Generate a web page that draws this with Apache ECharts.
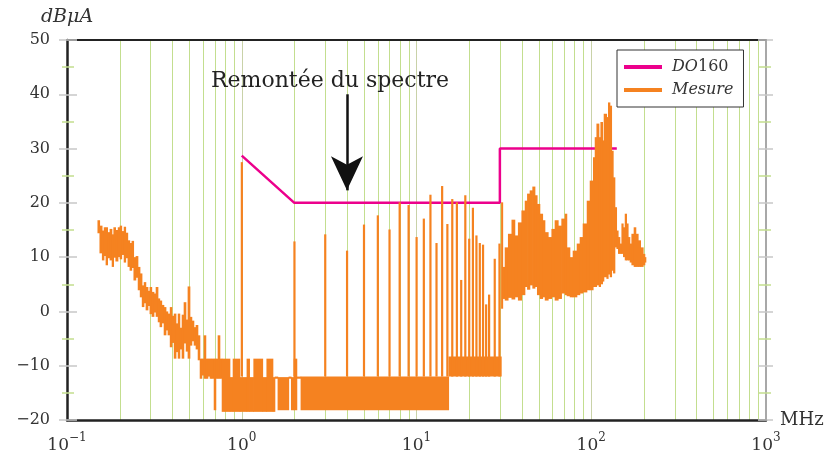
<!DOCTYPE html>
<html><head><meta charset="utf-8">
<script src="https://cdn.jsdelivr.net/npm/echarts@6/dist/echarts.min.js"></script>
<style>html,body{margin:0;padding:0;background:#fff}#c{width:828px;height:458px}</style>
</head><body><div id="c"></div>
<script>
// ---- data ----
const limitFreq  = [1, 2, 30, 30, 140];
const limitLevel = [28.7, 20, 20, 30, 30];

// Mesure: measured band (each step runs to the next frequency), MHz / dBµA
const bandFreq = [
 0.150,0.154,0.159,0.163,0.167,0.171,0.176,0.181,0.185,0.190,0.196,0.201,0.206,0.212,0.217,0.223,0.229,0.235,0.241,0.248,
 0.255,0.262,0.269,0.276,0.283,0.291,0.298,0.306,0.315,0.323,0.332,0.340,0.349,0.359,0.369,0.378,0.389,0.399,0.410,0.421,
 0.432,0.443,0.455,0.467,0.480,0.492,0.506,0.519,0.533,0.547,0.562,0.577,0.592,0.608,0.624,0.641,0.658,0.675,0.694,0.712,
 0.731,0.751,0.771,0.857,0.891,0.977,1.07,1.11,1.17,1.32,1.39,1.51,1.55,1.61,1.86,1.92,1.99,2.07,2.18,15.3,
 30.6,31.2,32.1,33.5,35.1,36.6,38.2,40.0,41.8,43.1,44.6,46.2,47.7,49.1,50.9,52.8,54.4,56.8,59.4,62.0,
 64.8,67.7,70.8,72.6,75.6,78.6,82.9,86.2,89.7,94.6,98.4,102.7,105.1,107.5,110.8,113.3,116.3,118.3,122.6,125.2,
 128.1,131.0,133.8,136.8,139.9,142.8,146.0,149.4,152.6,156.1,159.6,162.9,166.6,170.4,175.6,180.3,185.9,191.9,198.6,203.0,
 205.8
];
const bandLo = [
 14.4,10.7,9.4,10.2,8.5,9.8,9.4,8.2,9.9,9.2,10.0,9.6,10.4,9.0,9.8,8.2,7.5,8.0,5.7,6.2,
 3.9,2.6,0.8,1.5,0.2,1.0,-0.5,-1.0,-0.2,-1.0,-2.0,-2.9,-2.2,-4.4,-3.5,-4.4,-6.6,-5.8,-8.7,-7.5,
 -8.7,-7.0,-8.7,-5.9,-7.4,-8.7,-6.3,-5.5,-6.3,-7.0,-9.0,-12.4,-11.8,-12.4,-12.4,-12.0,-12.4,-12.4,-18.2,-12.4,
 -12.4,-12.4,-18.5,-18.5,-18.5,-18.5,-18.5,-18.5,-18.5,-18.5,-18.5,-18.5,-12.4,-18.2,-12.4,-18.2,-18.2,-12.4,-18.2,-12.0,
 0.5,2.3,2.0,2.5,2.2,2.6,2.0,3.0,4.5,4.0,4.8,4.2,4.5,3.0,2.3,2.6,2.0,2.3,2.6,2.0,
 2.3,3.3,3.0,2.8,2.6,2.6,3.0,3.3,3.5,3.9,3.9,4.5,4.5,4.8,4.5,5.0,5.5,6.3,6.0,6.8,
 6.3,7.5,7.0,11.8,11.5,10.6,10.6,10.6,10.0,9.4,9.4,9.4,9.0,8.5,8.2,8.2,8.2,8.2,8.5,9.0,
 9.6
];
const bandHi = [
 16.8,15.8,14.9,15.5,15.5,14.6,15.2,14.2,15.5,15.0,15.5,15.8,14.8,15.6,14.5,13.1,12.6,13.0,10.0,10.2,
 8.2,7.0,4.8,5.4,4.5,3.8,4.5,3.6,3.3,4.5,2.4,2.0,1.2,0.8,0.0,-0.4,0.8,-0.8,-0.4,-2.2,
 -0.4,-3.0,-0.6,1.7,-1.5,4.6,-1.0,-1.7,-2.9,-2.5,-4.4,-8.7,-8.7,-4.4,-8.7,-8.7,-8.7,-8.7,-8.7,-8.7,
 -4.4,-8.7,-8.7,-12.1,-8.7,-12.1,-8.7,-12.1,-8.7,-12.1,-8.7,-12.1,-12.0,-12.1,-12.0,-12.1,-8.7,-12.0,-12.0,-8.3,
 20.1,8.2,11.8,14.3,16.9,14.0,16.4,18.6,20.4,21.7,22.3,23.0,21.4,19.8,18.0,16.8,14.6,13.7,15.2,16.8,
 15.8,17.1,18.0,11.8,10.0,11.2,12.5,13.7,16.2,20.4,24.1,28.4,32.1,34.6,32.1,34.9,31.5,36.4,35.8,38.5,
 37.9,29.6,24.7,19.2,14.9,13.7,12.5,16.2,15.5,18.0,16.2,13.7,12.5,14.3,15.5,14.3,13.1,11.8,10.6,10.0,
 9.6
];
// Mesure: harmonic spikes, MHz / dBµA
const spikeFreq = [1,2,3,4,5,6,7,8,9,10,11,12,13,14,15,16,17,18,19,20,21,22,23,24,25,26,28,29.8];
const spikeTop  = [27.5,12.9,14.2,11.2,16.0,17.7,15.1,20.1,19.6,13.7,17.1,21.5,12.6,23.1,16.1,20.7,20.1,5.8,21.4,13.4,19.1,14.0,12.6,12.3,1.3,3.1,9.7,12.5];
const spikeFloor = -12;

// axes / annotations
const yMin = -20, yMax = 50, yStep = 10;
const gridFreqs = [0.2,0.3,0.4,0.5,0.6,0.7,0.8,0.9,2,3,4,5,6,7,8,9,20,30,40,50,60,70,80,90,200,300,400,500,600,700,800,900];
const annotationText = 'Remontée du spectre';
const annotationAt = [3.2, 42.4];
const arrowFreq = 4, arrowFrom = 40, arrowTo = 22.3;
const seriesNames = ['DO160', 'Mesure'];

// ---- chart ----
const SERIF = 'DejaVu Serif';
const ORANGE = '#f58220';
const PINK = '#ec008c';
const GREEN = '#c3de8f';
const TXT = '#333';

const bandData = bandFreq.map((f, i) => [f, bandLo[i], bandHi[i], i + 1 < bandFreq.length ? bandFreq[i + 1] : f]);
const spikeData = spikeFreq.map((f, i) => [f, spikeFloor, spikeTop[i]]);
const limitData = limitFreq.map((f, i) => [f, limitLevel[i]]);
const gridData = gridFreqs.map(f => [f, yMin, yMax]);

const yFmt = v => v < 0 ? '\u2212' + Math.abs(v) : String(v);
const yBase = { type: 'value', min: yMin, max: yMax, interval: yStep, splitLine: { show: false } };
const tickMajor = { color: '#c8c8c8', width: 1.5 };
const tickMinor = { color: GREEN, width: 1.5 };

const chart = echarts.init(document.getElementById('c'));
chart.setOption({
  animation: false,
  grid: { left: 67, right: 62, top: 40, bottom: 38 },
  legend: {
    data: [{ name: seriesNames[0], icon: 'rect' }, { name: seriesNames[1], icon: 'rect' }],
    orient: 'vertical', left: 617, top: 50, zlevel: 2,
    borderColor: '#333', borderWidth: 1, backgroundColor: '#fff',
    padding: [7, 10, 7, 7], itemGap: 3, itemWidth: 38, itemHeight: 4,
    formatter: n => n === 'DO160' ? '{i|DO}{n|160}' : '{i|' + n + '}',
    textStyle: {
      color: TXT, lineHeight: 20, padding: [0, 0, 0, 5],
      rich: {
        i: { fontFamily: SERIF, fontStyle: 'italic', fontSize: 16, color: TXT },
        n: { fontFamily: SERIF, fontSize: 16, color: TXT }
      }
    }
  },
  xAxis: [{
    type: 'log', logBase: 10, min: 0.1, max: 1000, position: 'bottom',
    axisLine: { show: true, onZero: false, lineStyle: { color: '#222', width: 2.5 } },
    axisTick: { show: false },
    splitLine: { show: true, lineStyle: { color: '#c9d2a8', width: 1 } },
    axisLabel: {
      margin: 12,
      formatter: v => { const e = Math.round(Math.log10(v)); return '{b|10}{e|' + (e < 0 ? '\u2212' + (-e) : e) + '}'; },
      rich: {
        b: { fontFamily: SERIF, fontSize: 17, color: TXT, verticalAlign: 'bottom', lineHeight: 22 },
        e: { fontFamily: SERIF, fontSize: 12, color: TXT, verticalAlign: 'top', lineHeight: 14 }
      }
    },
    name: 'MHz', nameLocation: 'end', nameGap: 14,
    nameTextStyle: { fontFamily: SERIF, fontSize: 18, color: TXT, verticalAlign: 'middle' }
  }, {
    type: 'log', logBase: 10, min: 0.1, max: 1000, position: 'top',
    axisLine: { show: true, onZero: false, lineStyle: { color: '#222', width: 2 } },
    axisTick: { show: false }, axisLabel: { show: false }, splitLine: { show: false }
  }],
  yAxis: [
    Object.assign({}, yBase, {
      position: 'left',
      axisLine: { show: true, onZero: false, lineStyle: { color: '#222', width: 2.5 } },
      axisTick: { show: true, inside: false, length: 8, lineStyle: tickMajor },
      minorTick: { show: true, splitNumber: 2, length: 5, lineStyle: tickMinor },
      axisLabel: { fontFamily: SERIF, fontSize: 16, color: TXT, margin: 17, formatter: yFmt },
      name: 'dBμA', nameLocation: 'end', nameGap: 13,
      nameTextStyle: { fontFamily: SERIF, fontStyle: 'italic', fontSize: 19, color: TXT, align: 'center' }
    }),
    Object.assign({}, yBase, {
      position: 'left', axisLine: { show: false, onZero: false },
      axisTick: { show: true, inside: true, length: 10, lineStyle: tickMajor },
      minorTick: { show: true, splitNumber: 2, length: 7, lineStyle: tickMinor },
      axisLabel: { show: false }
    }),
    Object.assign({}, yBase, {
      position: 'right',
      axisLine: { show: true, onZero: false, lineStyle: { color: '#a8a8a8', width: 2 } },
      axisTick: { show: true, inside: false, length: 7, lineStyle: tickMajor },
      minorTick: { show: true, splitNumber: 2, length: 5, lineStyle: tickMinor },
      axisLabel: { show: false }
    }),
    Object.assign({}, yBase, {
      position: 'right', axisLine: { show: false, onZero: false },
      axisTick: { show: true, inside: true, length: 8, lineStyle: tickMajor },
      minorTick: { show: true, splitNumber: 2, length: 7, lineStyle: tickMinor },
      axisLabel: { show: false }
    })
  ],
  series: [
    {
      name: 'grid', type: 'custom', data: gridData, zlevel: 0, z: 0, silent: true,
      encode: { x: 0, y: [1, 2] },
      renderItem: (params, api) => {
        const a = api.coord([api.value(0), api.value(1)]);
        const b = api.coord([api.value(0), api.value(2)]);
        const x = Math.round(a[0]) + 0.5;
        return { type: 'line', z2: 0, shape: { x1: x, y1: a[1], x2: x, y2: b[1] }, style: { stroke: GREEN, lineWidth: 1 } };
      }
    },
    {
      name: seriesNames[0], type: 'line', data: limitData, zlevel: 1, z: 3,
      symbol: 'none', lineStyle: { color: PINK, width: 2.5 }, itemStyle: { color: PINK }
    },
    {
      name: seriesNames[1], type: 'custom', data: bandData, zlevel: 1, z: 4,
      encode: { x: [0, 3], y: [1, 2] }, itemStyle: { color: ORANGE },
      renderItem: (params, api) => {
        if (params.dataIndex === bandFreq.length - 1) return null;
        const a = api.coord([api.value(0), api.value(2)]);
        const b = api.coord([api.value(3), api.value(1)]);
        return { type: 'rect', z2: 10, shape: { x: a[0] - 0.3, y: a[1], width: b[0] - a[0] + 0.6, height: b[1] - a[1] }, style: { fill: ORANGE } };
      }
    },
    {
      name: seriesNames[1], type: 'custom', data: spikeData, zlevel: 1, z: 4,
      encode: { x: 0, y: [1, 2] }, itemStyle: { color: ORANGE },
      renderItem: (params, api) => {
        const t = api.coord([api.value(0), api.value(2)]);
        const b = api.coord([api.value(0), api.value(1)]);
        return { type: 'rect', z2: 10, shape: { x: t[0] - 1, y: t[1], width: 2.2, height: b[1] - t[1] }, style: { fill: ORANGE } };
      }
    },
    {
      name: 'annotation', type: 'line', data: [], zlevel: 1, z: 6, silent: true,
      markLine: {
        silent: true, symbol: ['none', 'arrow'], symbolSize: [24, 34], animation: false,
        label: { show: false }, emphasis: { disabled: true },
        lineStyle: { color: '#111', width: 2.5, type: 'solid' },
        data: [[{ coord: [arrowFreq, arrowFrom] }, { coord: [arrowFreq, arrowTo] }]]
      },
      markPoint: {
        silent: true, symbol: 'circle', symbolSize: 0, animation: false,
        label: { show: true, position: 'inside', formatter: annotationText, fontFamily: SERIF, fontSize: 22, color: '#222' },
        data: [{ coord: annotationAt }]
      }
    }
  ]
});
</script></body></html>
